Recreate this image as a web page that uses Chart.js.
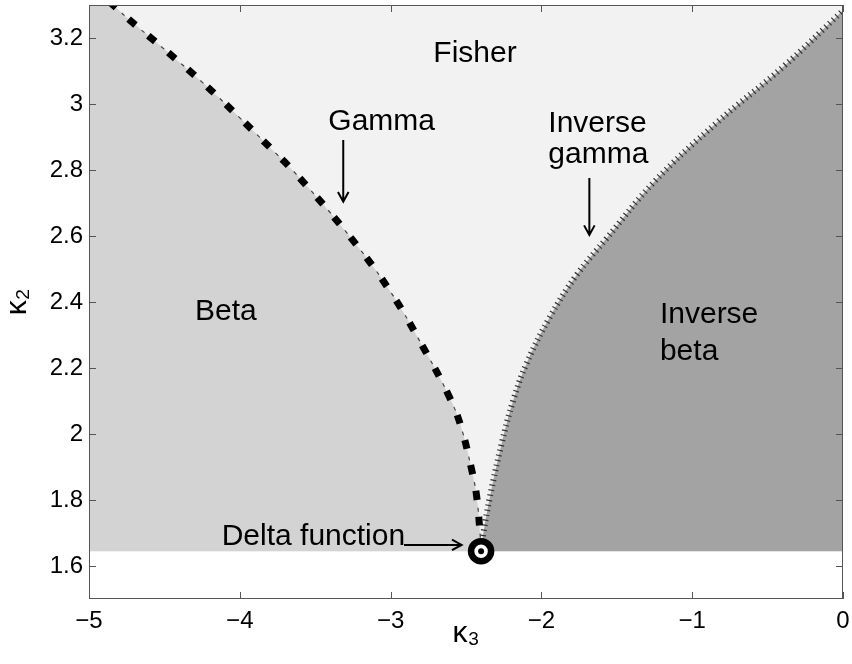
<!DOCTYPE html>
<html>
<head>
<meta charset="utf-8">
<script src="https://cdn.jsdelivr.net/npm/chart.js@4.4.1/dist/chart.umd.min.js"></script>
<style>
body { margin: 0; background: #fff; }
#wrap { width: 852px; height: 664px; }
</style>
</head>
<body>
<div id="wrap"><canvas id="chart"></canvas></div>
<script>
// gamma boundary (Beta | Fisher)
const gammaK3 = [-5.00, -4.84, -4.75, -4.485, -4.23, -4.00, -3.755, -3.645, -3.314, -3.015, -2.761, -2.606, -2.535, -2.462, -2.429, -2.407, -2.400];
const gammaK2 = [3.360, 3.300, 3.262, 3.160, 3.058, 2.958, 2.848, 2.797, 2.623, 2.441, 2.244, 2.108, 2.025, 1.891, 1.810, 1.699, 1.645];

// inverse gamma boundary (Fisher | Inverse beta)
const invGammaK3 = [-2.400, -2.385, -2.341, -2.263, -2.186, -2.098, -1.943, -1.766, -1.567, -1.250, -0.838, -0.396, 0.000];
const invGammaK2 = [1.645, 1.699, 1.810, 1.972, 2.103, 2.214, 2.355, 2.482, 2.593, 2.765, 2.943, 3.113, 3.283];

// delta function point, lower edge of the regions
const deltaK3 = [-2.40];
const deltaK2 = [1.645];
const k2Floor = 1.645;

const xTicks = [-5, -4, -3, -2, -1, 0];
const yTicks = [1.6, 1.8, 2.0, 2.2, 2.4, 2.6, 2.8, 3.0, 3.2];

const FONT = '"Liberation Sans", Arial, Helvetica, sans-serif';
Chart.defaults.font.family = FONT;
Chart.defaults.color = '#000';

function pts(xs, ys) {
  return xs.map(function(x, i) { return {x: x, y: ys[i]}; });
}

// text labels and arrows, placed in data coordinates
const labels = [
  {text: 'Fisher', x: -2.44, y: 3.128, align: 'center'},
  {text: 'Gamma', x: -3.413, y: 2.921},
  {text: 'Inverse', x: -1.954, y: 2.916},
  {text: 'gamma', x: -1.954, y: 2.820},
  {text: 'Beta', x: -4.297, y: 2.345},
  {text: 'Inverse', x: -1.214, y: 2.335},
  {text: 'beta', x: -1.214, y: 2.224},
  {text: 'Delta function', x: -4.12, y: 1.664}
];
const arrows = [
  {x0: -3.314, y0: 2.891, x1: -3.314, y1: 2.704},
  {x0: -1.682, y0: 2.776, x1: -1.682, y1: 2.603},
  {x0: -2.911, y0: 1.664, x1: -2.529, y1: 1.664}
];

const overlay = {
  id: 'overlay',
  afterDatasetsDraw(chart) {
    const ctx = chart.ctx;
    const a = chart.chartArea;
    const x = chart.scales.x, y = chart.scales.y;
    ctx.save();

    // frame with inward ticks
    ctx.strokeStyle = '#555';
    ctx.lineWidth = 1;
    ctx.strokeRect(a.left + 0.5, a.top + 0.5, a.right - a.left - 1, a.bottom - a.top - 1);
    ctx.beginPath();
    xTicks.forEach(function(v) {
      const px = Math.round(x.getPixelForValue(v)) + 0.5;
      ctx.moveTo(px, a.bottom); ctx.lineTo(px, a.bottom - 7);
      ctx.moveTo(px, a.top); ctx.lineTo(px, a.top + 7);
    });
    yTicks.forEach(function(v) {
      const py = Math.round(y.getPixelForValue(v)) + 0.5;
      ctx.moveTo(a.left, py); ctx.lineTo(a.left + 7, py);
      ctx.moveTo(a.right, py); ctx.lineTo(a.right - 7, py);
    });
    ctx.stroke();

    // labels
    ctx.fillStyle = '#000';
    ctx.font = '30px ' + FONT;
    ctx.textBaseline = 'alphabetic';
    labels.forEach(function(l) {
      ctx.textAlign = l.align || 'left';
      ctx.fillText(l.text, x.getPixelForValue(l.x), y.getPixelForValue(l.y));
    });

    // arrows
    ctx.strokeStyle = '#000';
    ctx.lineWidth = 2;
    arrows.forEach(function(ar) {
      const x0 = x.getPixelForValue(ar.x0), y0 = y.getPixelForValue(ar.y0);
      const x1 = x.getPixelForValue(ar.x1), y1 = y.getPixelForValue(ar.y1);
      const ang = Math.atan2(y1 - y0, x1 - x0);
      ctx.beginPath();
      ctx.moveTo(x0, y0); ctx.lineTo(x1, y1);
      ctx.moveTo(x1 - 11 * Math.cos(ang - 0.5), y1 - 11 * Math.sin(ang - 0.5));
      ctx.lineTo(x1, y1);
      ctx.lineTo(x1 - 11 * Math.cos(ang + 0.5), y1 - 11 * Math.sin(ang + 0.5));
      ctx.stroke();
    });
    ctx.restore();
  }
};

const gammaPts = pts(gammaK3, gammaK2);
const invGammaPts = pts(invGammaK3, invGammaK2);

new Chart(document.getElementById('chart'), {
  type: 'scatter',
  plugins: [overlay],
  data: {
    datasets: [
      {
        // delta function: centre dot
        data: pts(deltaK3, deltaK2),
        pointRadius: 3,
        pointBackgroundColor: '#000',
        pointBorderWidth: 0
      },
      {
        // delta function: ring
        data: pts(deltaK3, deltaK2),
        pointRadius: 10,
        pointBackgroundColor: '#fff',
        pointBorderColor: '#000',
        pointBorderWidth: 6.5
      },
      {
        // gamma: thin dashes between the thick ones
        data: gammaPts,
        showLine: true,
        tension: 0.4,
        borderColor: '#444',
        borderWidth: 1.2,
        borderDash: [4, 22],
        borderDashOffset: 9,
        pointRadius: 0,
        clip: 0
      },
      {
        // gamma: thick dashes, Beta region below
        data: gammaPts,
        showLine: true,
        tension: 0.4,
        borderColor: '#000',
        borderWidth: 7,
        borderDash: [9, 17],
        borderCapStyle: 'butt',
        backgroundColor: '#d3d3d3',
        fill: {value: k2Floor},
        pointRadius: 0,
        clip: 0
      },
      {
        // inverse gamma: hatched line, Inverse beta region below
        data: invGammaPts,
        showLine: true,
        tension: 0.4,
        borderColor: '#333',
        borderWidth: 6,
        borderDash: [1.2, 3.9],
        borderCapStyle: 'butt',
        backgroundColor: '#a3a3a3',
        fill: {value: k2Floor},
        pointRadius: 0,
        clip: 0
      },
      {
        // Fisher region (whole band above the floor)
        data: [{x: -5, y: 3.3}, {x: 0, y: 3.3}],
        showLine: true,
        borderWidth: 0,
        backgroundColor: '#f2f2f2',
        fill: {value: k2Floor},
        pointRadius: 0
      }
    ]
  },
  options: {
    responsive: true,
    maintainAspectRatio: false,
    animation: false,
    events: [],
    layout: {autoPadding: false, padding: {top: 5, right: 9, left: 0, bottom: 0}},
    plugins: {
      legend: {display: false},
      tooltip: {enabled: false}
    },
    scales: {
      x: {
        type: 'linear',
        min: -5,
        max: 0,
        afterBuildTicks: function(s) { s.ticks = xTicks.map(function(v) { return {value: v}; }); },
        afterFit: function(s) { s.height = 65; s.paddingLeft = 0; s.paddingRight = 0; },
        grid: {display: false, drawTicks: false},
        border: {display: false},
        ticks: {
          padding: 8,
          maxRotation: 0,
          autoSkip: false,
          font: {size: 24},
          callback: function(v) { return v < 0 ? '\u2212' + Math.abs(v) : String(v); }
        },
        title: {display: true, text: 'κ₃', font: {size: 30}, padding: {top: 0, bottom: 12}}
      },
      y: {
        type: 'linear',
        min: 1.5,
        max: 3.3,
        afterBuildTicks: function(s) { s.ticks = yTicks.map(function(v) { return {value: v}; }); },
        afterFit: function(s) { s.width = 89; s.paddingTop = 0; s.paddingBottom = 0; },
        grid: {display: false, drawTicks: false},
        border: {display: false},
        ticks: {
          padding: 6,
          autoSkip: false,
          font: {size: 24},
          callback: function(v) { return String(+v.toFixed(1)); }
        },
        title: {display: true, text: 'κ₂', font: {size: 30}, padding: {top: 0, bottom: 0}}
      }
    }
  }
});
</script>
</body>
</html>
